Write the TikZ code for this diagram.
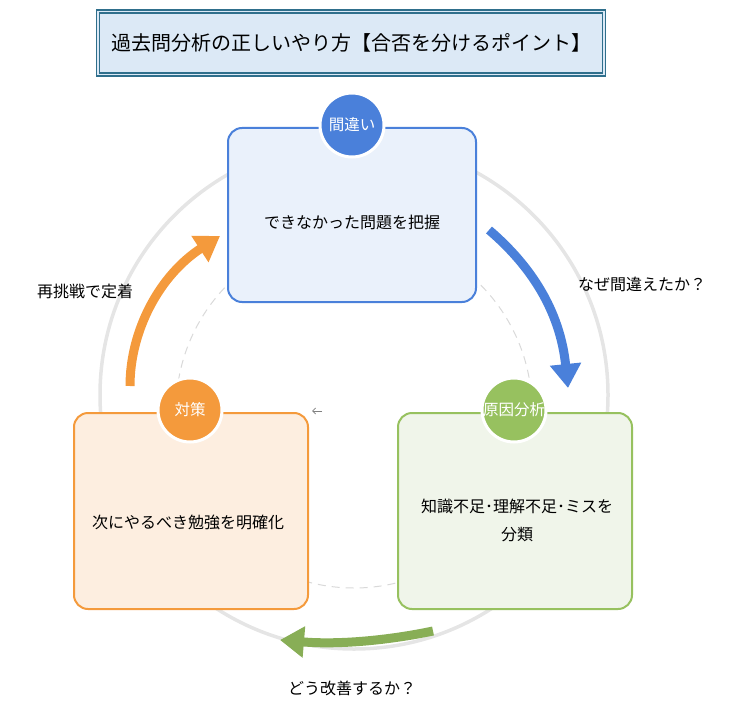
\documentclass[tikz,border=0pt]{standalone}
\usepackage{fontspec}
\setmainfont{Noto Sans CJK JP}
\usetikzlibrary{arrows.meta}
\definecolor{tb}{HTML}{DCE9F6}\definecolor{tbd}{HTML}{2F6F8C}
\definecolor{bl}{HTML}{4A80DA}\definecolor{blf}{HTML}{EAF1FB}
\definecolor{gr}{HTML}{97C15F}\definecolor{grf}{HTML}{F0F5EA}
\definecolor{or}{HTML}{F49A3C}\definecolor{orf}{HTML}{FDEEE0}
\begin{document}
\begin{tikzpicture}[x=1pt,y=-1pt,
 box/.style={draw=#1,line width=2pt,rounded corners=14pt},
 badge/.style={circle,fill=#1,draw=white,line width=3pt,minimum size=64pt,inner sep=0pt,text=white,font=\fontsize{15.5}{15.5}\selectfont},
 txt/.style={font=\fontsize{16}{28}\selectfont,align=center},
 bigarrow/.style={line width=9pt,draw=#1,-{Triangle[length=24pt,width=30pt]}}]
\useasboundingbox (0,0) rectangle (735,703);
% title
\node[draw=tbd,fill=tb,line width=1.5pt,minimum width=506pt,minimum height=63pt,double=tb,double distance=1.2pt,font=\fontsize{20}{20}\selectfont] (title) at (351,43) {過去問分析の正しいやり方【合否を分けるポイント】};
% circles
\draw[black!10,line width=3.5pt] (354,395) circle (254);
\draw[black!15,dashed,line width=1pt,dash pattern=on 8pt off 6pt] (354,410) circle (178);
% boxes
\draw[box=bl,fill=blf] (228,128) rectangle (476,302);
\draw[box=gr,fill=grf] (398,413) rectangle (632,609);
\draw[box=or,fill=orf] (74,413) rectangle (308,609);
\node[txt] (t1) at (352,222) {できなかった問題を把握};
\node[txt] (t2) at (517,520) {知識不足･理解不足･ミスを\\分類};
\node[txt] (t3) at (188,522) {次にやるべき勉強を明確化};
\node[badge=bl] (b1) at (352,125) {間違い};
\node[badge=gr] (b2) at (514,410) {原因分析};
\node[badge=or] (b3) at (190,410) {対策};
% arrows
\coordinate (a1s) at (489,230); \coordinate (a1e) at (568,388);
\draw[bigarrow=bl] (a1s) .. controls (530,265) and (560,310) .. (a1e);
\coordinate (a2s) at (433,631); \coordinate (a2e) at (280,640);
\draw[bigarrow=gr!90!black] (a2s) .. controls (390,640) and (340,645) .. (a2e);
\coordinate (a3s) at (130,386); \coordinate (a3e) at (220,236);
\draw[bigarrow=or] (a3s) .. controls (130,330) and (160,275) .. (a3e);
% labels
\node[txt] (l1) at (642,284) {なぜ間違えたか？};
\node[txt] (l2) at (352,688) {どう改善するか？};
\node[txt] (l3) at (85,291) {再挑戦で定着};
\coordinate (sa) at (322,411); \coordinate (sb) at (312,411);
\draw[gray,line width=0.8pt,-{Straight Barb[length=3pt,width=6pt]}] (sa) -- (sb);
\end{tikzpicture}
\end{document}
